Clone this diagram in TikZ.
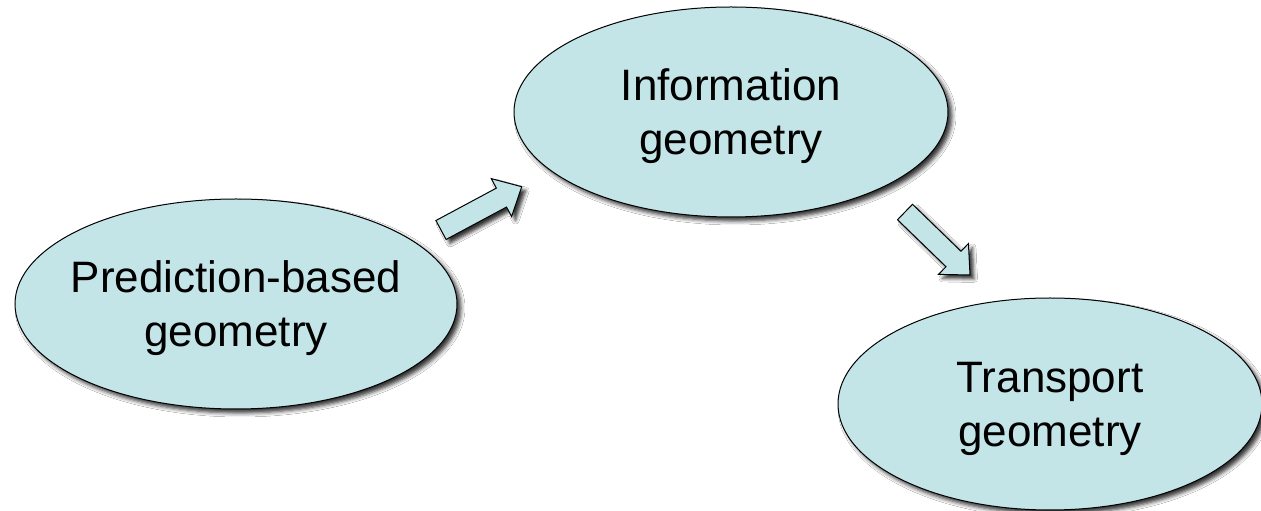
\documentclass[tikz,border=0pt]{standalone}
\usepackage{fontspec}
\setmainfont{Liberation Sans}
\usetikzlibrary{shapes.geometric,shadows.blur}
\definecolor{cellfill}{RGB}{196,229,232}
\tikzset{
  bubble/.style={ellipse, draw=black, line width=1pt, fill=cellfill, inner sep=0pt,
    blur shadow={shadow xshift=4pt, shadow yshift=-4pt, shadow blur radius=4pt, shadow opacity=80}},
  label text/.style={align=center, inner sep=0pt, font=\fontsize{44}{54}\selectfont},
  blockarrow/.style={draw=black, line width=1pt, fill=cellfill, line join=miter,
    blur shadow={shadow xshift=4pt, shadow yshift=-4pt, shadow blur radius=3.5pt, shadow opacity=80}}
}
\begin{document}
\begin{tikzpicture}[x=1pt,y=1pt]
\fill[white] (0,0) rectangle (1261,511);
\useasboundingbox (0,0) rectangle (1261,511);

% ellipses
\node[bubble, minimum width=442pt, minimum height=210pt] (pred) at (236,207) {};
\node[bubble, minimum width=434pt, minimum height=210pt] (info) at (731,399) {};
\node[bubble, minimum width=424pt, minimum height=212pt] (trans) at (1050,107) {};

% texts
\node[label text] (predtext) at ([yshift=-4.5pt]pred.center) {Prediction-based\\geometry};
\node[label text] (infotext) at ([yshift=-4.5pt]info.center) {Information\\geometry};
\node[label text] (transtext) at ([yshift=-4.5pt]trans.center) {Transport\\geometry};

% block arrows
\coordinate (a1s) at (441,281);
\coordinate (a2s) at (905,299);
\begin{scope}[shift={(a1s)}, rotate=28.2]
  \draw[blockarrow] (0,-10.75) -- (68.6,-10.75) -- (68.6,-21.5) -- (91.6,0) -- (68.6,21.5) -- (68.6,10.75) -- (0,10.75) -- cycle;
\end{scope}
\begin{scope}[shift={(a2s)}, rotate=-44.1]
  \draw[blockarrow] (0,-10.75) -- (67.5,-10.75) -- (67.5,-21.5) -- (90.5,0) -- (67.5,21.5) -- (67.5,10.75) -- (0,10.75) -- cycle;
\end{scope}
\end{tikzpicture}
\end{document}
